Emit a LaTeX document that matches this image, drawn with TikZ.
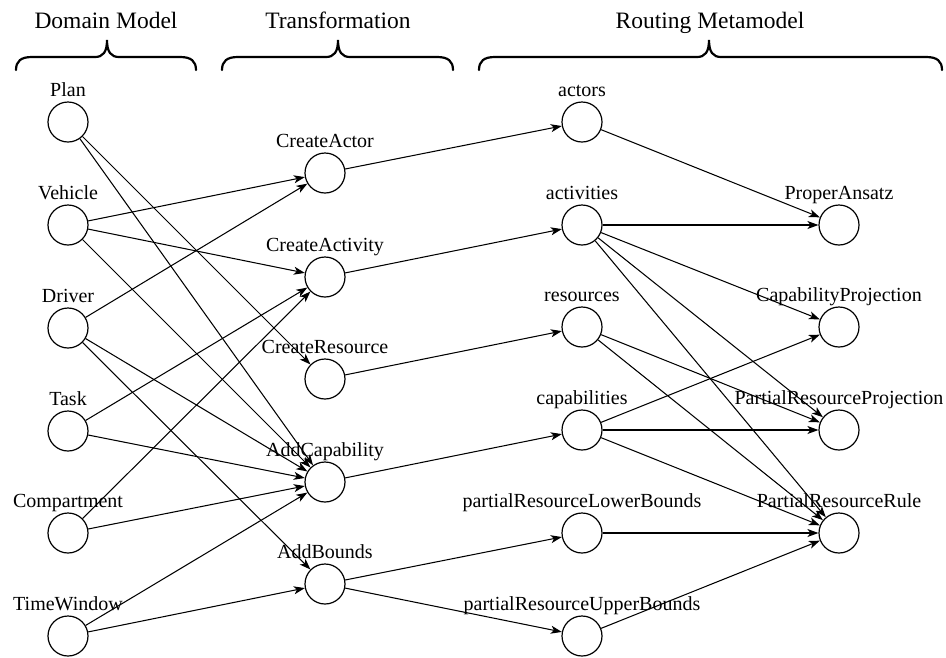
\documentclass[tikz,border=0pt]{standalone}
\usepackage{fontspec}
\setmainfont{Liberation Serif}
\usetikzlibrary{arrows.meta}
% curly brace over a column: left end, tip, right end
\newcommand{\groupbrace}[3]{%
  \draw[bracket] (#1,70) .. controls (#1,61) and (#1+5,57) .. (#1+16,57)
    -- (#2-12,57) .. controls (#2-4,57) and (#2,52) .. (#2,40)
    .. controls (#2,52) and (#2+4,57) .. (#2+12,57)
    -- (#3-16,57) .. controls (#3-5,57) and (#3,61) .. (#3,70);}
\begin{document}
\begin{tikzpicture}[x=1pt,y=-1pt,
  state/.style={circle,draw,line width=1.2pt,minimum size=40pt,inner sep=0pt},
  every label/.style={font=\fontsize{20}{23}\selectfont,text depth=0pt,inner sep=0pt},
  label distance=5pt,
  flow/.style={-{Stealth[length=11pt,width=8pt,inset=3pt]},line width=1.05pt},
  bracket/.style={line width=2.2pt,line cap=round},
  title/.style={font=\fontsize{23.5}{27}\selectfont,anchor=base,inner sep=0pt}
]
\useasboundingbox (0,0) rectangle (946,657);

% column headings
\node[title] (hdomain) at (106,28) {Domain Model};
\node[title] (htrans)  at (338,28) {Transformation};
\node[title] (hrouting) at (710,28) {Routing Metamodel};
\groupbrace{16}{107}{196}
\groupbrace{222}{338}{453}
\groupbrace{479}{709}{942}

% domain model
\node[state,label=above:Plan]        (plan)    at (68,122) {};
\node[state,label=above:Vehicle]     (vehicle) at (68,225) {};
\node[state,label=above:Driver]      (driver)  at (68,328) {};
\node[state,label=above:Task]        (task)    at (68,431) {};
\node[state,label=above:Compartment] (compart) at (68,533) {};
\node[state,label=above:TimeWindow]  (timewin) at (68,636) {};

% transformation rules
\node[state,label=above:CreateActor]    (cactor)    at (325,173) {};
\node[state,label=above:CreateActivity] (cactivity) at (325,277) {};
\node[state,label=above:CreateResource] (cresource) at (325,379) {};
\node[state,label=above:AddCapability]  (acap)      at (325,482) {};
\node[state,label=above:AddBounds]      (abounds)   at (325,584) {};

% routing metamodel
\node[state,label=above:actors]       (actors)     at (582,122) {};
\node[state,label=above:activities]   (activities) at (582,225) {};
\node[state,label=above:resources]    (resources)  at (582,327) {};
\node[state,label=above:capabilities] (capab)      at (582,430) {};
\node[state,label=above:partialResourceLowerBounds] (lower) at (582,533) {};
\node[state,label=above:partialResourceUpperBounds] (upper) at (582,636) {};

\node[state,label=above:ProperAnsatz]              (proper)  at (839,225) {};
\node[state,label=above:CapabilityProjection]      (capproj) at (839,327) {};
\node[state,label=above:PartialResourceProjection] (prproj)  at (839,430) {};
\node[state,label=above:PartialResourceRule]       (prrule)  at (839,533) {};

% domain -> transformation
\draw[flow] (plan) -- (cresource);
\draw[flow] (plan) -- (acap);
\draw[flow] (vehicle) -- (cactor);
\draw[flow] (vehicle) -- (cactivity);
\draw[flow] (vehicle) -- (acap);
\draw[flow] (driver) -- (cactor);
\draw[flow] (driver) -- (acap);
\draw[flow] (driver) -- (abounds);
\draw[flow] (task) -- (cactivity);
\draw[flow] (task) -- (acap);
\draw[flow] (compart) -- (cactivity);
\draw[flow] (compart) -- (acap);
\draw[flow] (timewin) -- (acap);
\draw[flow] (timewin) -- (abounds);

% transformation -> routing
\draw[flow] (cactor) -- (actors);
\draw[flow] (cactivity) -- (activities);
\draw[flow] (cresource) -- (resources);
\draw[flow] (acap) -- (capab);
\draw[flow] (abounds) -- (lower);
\draw[flow] (abounds) -- (upper);

% routing -> constraints
\draw[flow] (actors) -- (proper);
\draw[flow] (activities) -- (proper);
\draw[flow] (activities) -- (capproj);
\draw[flow] (activities) -- (prproj);
\draw[flow] (activities) -- (prrule);
\draw[flow] (resources) -- (prproj);
\draw[flow] (resources) -- (prrule);
\draw[flow] (capab) -- (capproj);
\draw[flow] (capab) -- (prproj);
\draw[flow] (capab) -- (prrule);
\draw[flow] (lower) -- (prrule);
\draw[flow] (upper) -- (prrule);
\end{tikzpicture}
\end{document}
